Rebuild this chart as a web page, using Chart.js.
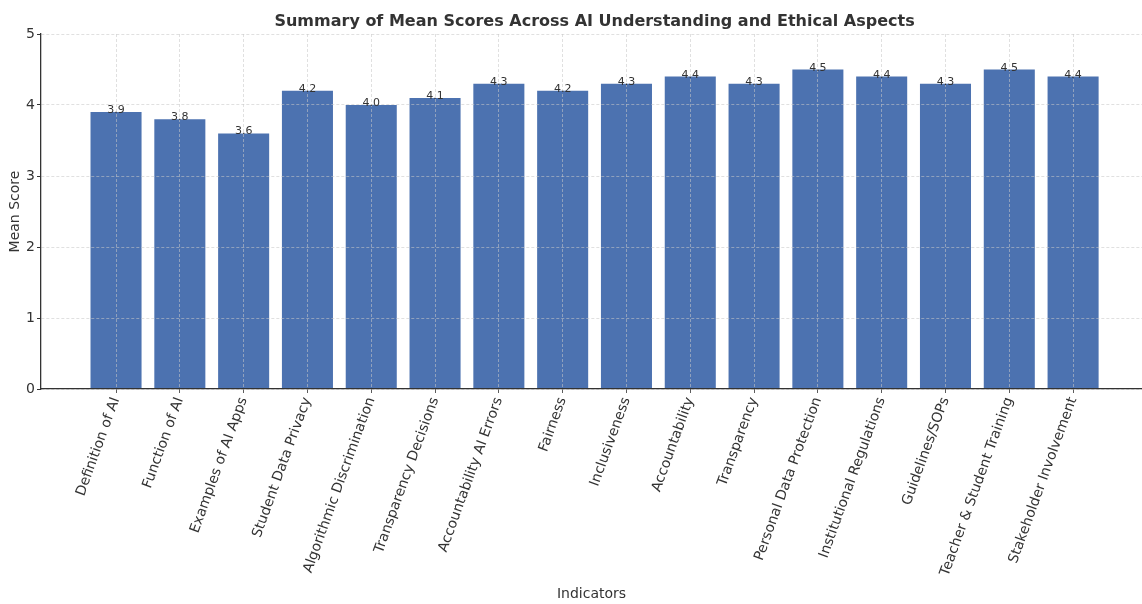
<!DOCTYPE html>
<html>
<head>
<meta charset="utf-8">
<script src="https://cdn.jsdelivr.net/npm/chart.js@4.4.0/dist/chart.umd.min.js"></script>
<style>
  html, body { margin: 0; padding: 0; background: #fff; overflow: hidden; }
  #wrap { width: 1142px; height: 604px; position: relative; }
</style>
</head>
<body>
<div id="wrap"><canvas id="chart"></canvas></div>
<script>
const indicators = [
  'Definition of AI', 'Function of AI', 'Examples of AI Apps', 'Student Data Privacy',
  'Algorithmic Discrimination', 'Transparency Decisions', 'Accountability AI Errors', 'Fairness',
  'Inclusiveness', 'Accountability', 'Transparency', 'Personal Data Protection',
  'Institutional Regulations', 'Guidelines/SOPs', 'Teacher & Student Training', 'Stakeholder Involvement'
];
const meanScores = [3.9, 3.8, 3.6, 4.2, 4.0, 4.1, 4.3, 4.2, 4.3, 4.4, 4.3, 4.5, 4.4, 4.3, 4.5, 4.4];
const yTicks = [0, 1, 2, 3, 4, 5];
const chartTitle = 'Summary of Mean Scores Across AI Understanding and Ethical Aspects';

const FONT = "'DejaVu Sans', sans-serif";
const INK = '#333333';
const GRID = 'rgba(200,200,200,0.7)';

// title centred over the axes, plus the value above each bar
const annotate = {
  id: 'annotate',
  afterDraw(chart) {
    const ctx = chart.ctx;
    const x = chart.scales.x, y = chart.scales.y;
    ctx.save();
    ctx.fillStyle = INK;
    ctx.textAlign = 'center';
    ctx.textBaseline = 'alphabetic';
    ctx.font = 'bold 16px ' + FONT;
    ctx.fillText(chartTitle, x.getPixelForValue(7.5), 26);
    ctx.font = '11px ' + FONT;
    meanScores.forEach((v, i) => {
      ctx.fillText(v.toFixed(1), x.getPixelForValue(i), y.getPixelForValue(v) + 1);
    });
    ctx.restore();
  }
};

new Chart(document.getElementById('chart'), {
  type: 'bar',
  data: {
    datasets: [{
      data: meanScores.map((v, i) => ({ x: i, y: v })),
      backgroundColor: '#4C72B0',
      borderWidth: 0,
      barPercentage: 0.8,
      categoryPercentage: 1.0
    }]
  },
  options: {
    responsive: true,
    maintainAspectRatio: false,
    animation: false,
    layout: { padding: { top: 34, left: 0, right: 0, bottom: 0 } },
    plugins: { legend: { display: false }, tooltip: { enabled: false }, title: { display: false } },
    scales: {
      x: {
        type: 'linear',
        min: -1.176,
        max: 16.08,
        offset: false,
        afterBuildTicks: s => { s.ticks = indicators.map((_, i) => ({ value: i })); },
        afterFit: s => { s.height = 215; },
        grid: {
          z: 1,
          offset: false,
          color: GRID,
          lineWidth: 0.8,
          drawTicks: true,
          tickLength: 4,
          tickColor: INK,
          tickWidth: 1,
          tickBorderDash: [1, 0]
        },
        border: { display: true, color: INK, width: 1.3, dash: [3, 2], z: 2 },
        ticks: {
          autoSkip: false,
          minRotation: 70,
          maxRotation: 70,
          padding: 2,
          color: INK,
          font: { family: FONT, size: 14 },
          callback: v => indicators[v]
        },
        title: {
          display: true,
          text: 'Indicators',
          color: INK,
          font: { family: FONT, size: 14 },
          padding: { top: 0, bottom: 1 }
        }
      },
      y: {
        min: 0,
        max: 5,
        afterBuildTicks: s => { s.ticks = yTicks.map(v => ({ value: v })); },
        afterFit: s => { s.width = 41; },
        grid: {
          z: 1,
          color: GRID,
          lineWidth: 0.8,
          tickLength: 4,
          tickColor: INK,
          tickWidth: 1,
          tickBorderDash: [1, 0]
        },
        border: { display: true, color: INK, width: 1.3, dash: [3, 2], z: 2 },
        ticks: {
          color: INK,
          padding: 2,
          font: { family: FONT, size: 14 }
        },
        title: {
          display: true,
          text: 'Mean Score',
          color: INK,
          font: { family: FONT, size: 14 },
          padding: { top: 7, bottom: 0 }
        }
      }
    }
  },
  plugins: [annotate]
});
</script>
</body>
</html>
